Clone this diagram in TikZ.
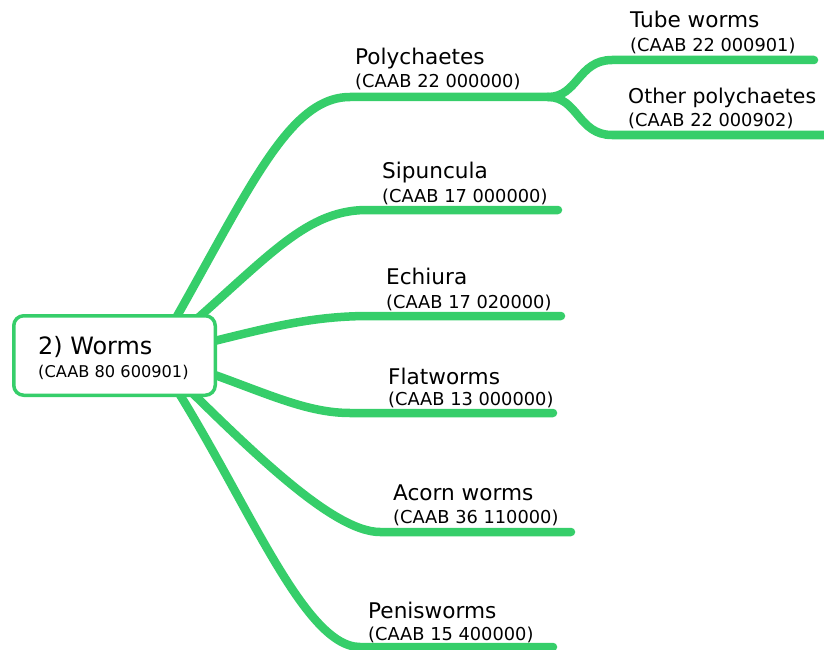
\documentclass[tikz,border=0pt]{standalone}
\usepackage{fontspec}
\setmainfont{DejaVu Sans}
\usetikzlibrary{backgrounds}
\definecolor{wormgreen}{RGB}{54,206,106}

\begin{document}
\begin{tikzpicture}[x=1pt, y=-1pt,
        branch/.style={draw=wormgreen, line width=8.5pt, line cap=round},
        topic/.style={anchor=base west, inner sep=0pt, font=\fontsize{21.6}{26}\selectfont},
        caab/.style={anchor=base west, inner sep=0pt, font=\fontsize{17.8}{21}\selectfont}]
        \useasboundingbox (0,0) rectangle (824,650);
        \node[draw=wormgreen, line width=3.5pt, fill=white, rounded corners=10pt,
            minimum width=201.5pt, minimum height=79.5pt] (root) at (114.5,355.5) {};
        \node[anchor=base west, inner sep=0pt, font=\fontsize{23.9}{28}\selectfont] (rootname) at (38,354) {2) Worms};
        \node[caab, font=\fontsize{16.2}{20}\selectfont] (rootcaab) at (38,377) {(CAAB 80 600901)};
        \coordinate (hub) at ([xshift=40pt]root.center);

        \coordinate (poly1) at (350,97);
        \coordinate (poly2) at (548,97);
        \coordinate (tube1) at (612,60);
        \coordinate (tube2) at (814,60);
        \coordinate (other1) at (612,135);
        \coordinate (other2) at (830,135);
        \coordinate (sip1) at (367,210);
        \coordinate (sip2) at (558,210);
        \coordinate (echi1) at (370,316);
        \coordinate (echi2) at (561,316);
        \coordinate (flat1) at (350,413);
        \coordinate (flat2) at (553,413);
        \coordinate (acorn1) at (380,532);
        \coordinate (acorn2) at (571,532);
        \coordinate (penis1) at (360,647);
        \coordinate (penis2) at (553,647);

        \node[topic] (poly) at (355,65) {Polychaetes};
        \node[caab] (polycaab) at (355,88) {(CAAB 22 000000)};
        \node[topic] (tube) at (630,28) {Tube worms};
        \node[caab] (tubecaab) at (630,52) {(CAAB 22 000901)};
        \node[topic, font=\fontsize{20.4}{24}\selectfont] (other) at (628,103) {Other polychaetes};
        \node[caab] (othercaab) at (628,127) {(CAAB 22 000902)};
        \node[topic] (sip) at (382,178) {Sipuncula};
        \node[caab] (sipcaab) at (382,202) {(CAAB 17 000000)};
        \node[topic] (echi) at (386,284) {Echiura};
        \node[caab] (echicaab) at (386,308) {(CAAB 17 020000)};
        \node[topic] (flat) at (388,384) {Flatworms};
        \node[caab] (flatcaab) at (388,405) {(CAAB 13 000000)};
        \node[topic] (acorn) at (393,500) {Acorn worms};
        \node[caab] (acorncaab) at (393,523) {(CAAB 36 110000)};
        \node[topic] (penis) at (368,618) {Penisworms};
        \node[caab] (peniscaab) at (368,640) {(CAAB 15 400000)};

        \begin{pgfonlayer}{background}
        \draw[branch] (hub) .. controls (245,200) and (285,97) .. (poly1) -- (poly2);
        \draw[branch] (poly2) .. controls (578,97) and (578,60) .. (tube1) -- (tube2);
        \draw[branch] (poly2) .. controls (578,97) and (578,135) .. (other1) -- (other2);
        \draw[branch] (hub) .. controls (262,266) and (300,210) .. (sip1) -- (sip2);
        \draw[branch] (hub) .. controls (255,332) and (300,316) .. (echi1) -- (echi2);
        \draw[branch] (hub) .. controls (245,381) and (295,413) .. (flat1) -- (flat2);
        \draw[branch] (hub) .. controls (240,440) and (330,532) .. (acorn1) -- (acorn2);
        \draw[branch] (hub) .. controls (240,480) and (300,647) .. (penis1) -- (penis2);
        \end{pgfonlayer}
    \end{tikzpicture}
\end{document}
